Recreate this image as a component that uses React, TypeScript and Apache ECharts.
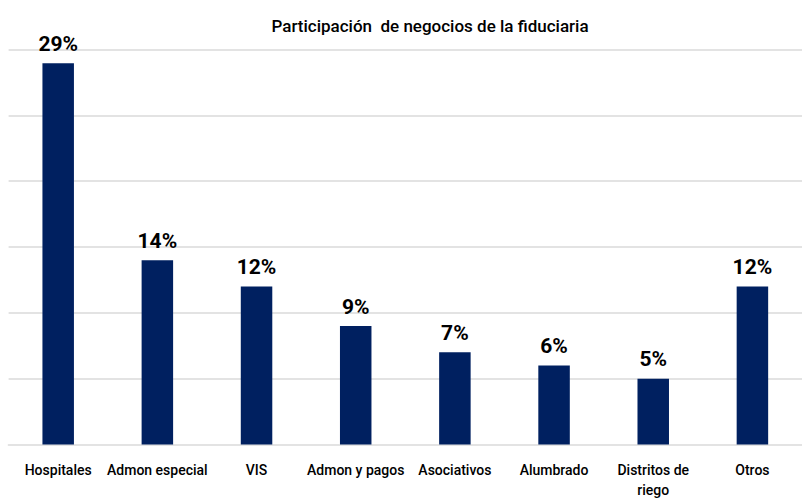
import React, { useEffect, useRef } from "react";
import * as echarts from "echarts";

const categories = [
  "Hospitales",
  "Admon especial",
  "VIS",
  "Admon y pagos",
  "Asociativos",
  "Alumbrado",
  "Distritos de\nriego",
  "Otros",
];
const values = [28.95, 14, 12, 9, 7, 6, 5, 12];
const chartTitle = "Participación  de negocios de la fiduciaria";

const FONT = "Roboto, 'Open Sans', sans-serif";

export default function App() {
  const ref = useRef<HTMLDivElement>(null);
  useEffect(() => {
    if (!ref.current) return;
    const chart = echarts.init(ref.current, null, { renderer: "svg" });
    chart.setOption({
      animation: false,
      backgroundColor: "#ffffff",
      title: {
        text: chartTitle,
        left: 425,
        top: 12,
        textAlign: "center",
        textStyle: { fontFamily: FONT, fontSize: 17, fontWeight: 500, color: "#000" },
      },
      grid: { left: 8.6, right: -4.6, top: 49.5, bottom: 55.5 },
      xAxis: {
        type: "category",
        data: categories,
        axisLine: { show: true, lineStyle: { color: "#e3e3e3", width: 2 } },
        axisTick: { show: false },
        axisLabel: {
          interval: 0,
          margin: 15,
          color: "#000",
          fontFamily: FONT,
          fontSize: 14,
          fontWeight: 500,
          lineHeight: 20,
        },
      },
      yAxis: {
        type: "value",
        min: 0,
        max: 30,
        interval: 5,
        axisLabel: { show: false },
        axisLine: { show: false },
        axisTick: { show: false },
        splitLine: { lineStyle: { color: "#e3e3e3", width: 2 } },
      },
      series: [
        {
          type: "bar",
          data: values,
          barWidth: 31.5,
          itemStyle: { color: "#002060" },
          label: {
            show: true,
            position: "top",
            distance: 9,
            formatter: (p: any) => Math.round(p.value) + "%",
            fontFamily: FONT,
            fontSize: 21,
            fontWeight: "bold",
            color: "#000",
          },
        },
      ],
    });
    return () => chart.dispose();
  }, []);
  return (
    <div
      ref={ref}
      style={{ position: "fixed", left: 0, top: 0, width: 802, height: 500 }}
    />
  );
}
